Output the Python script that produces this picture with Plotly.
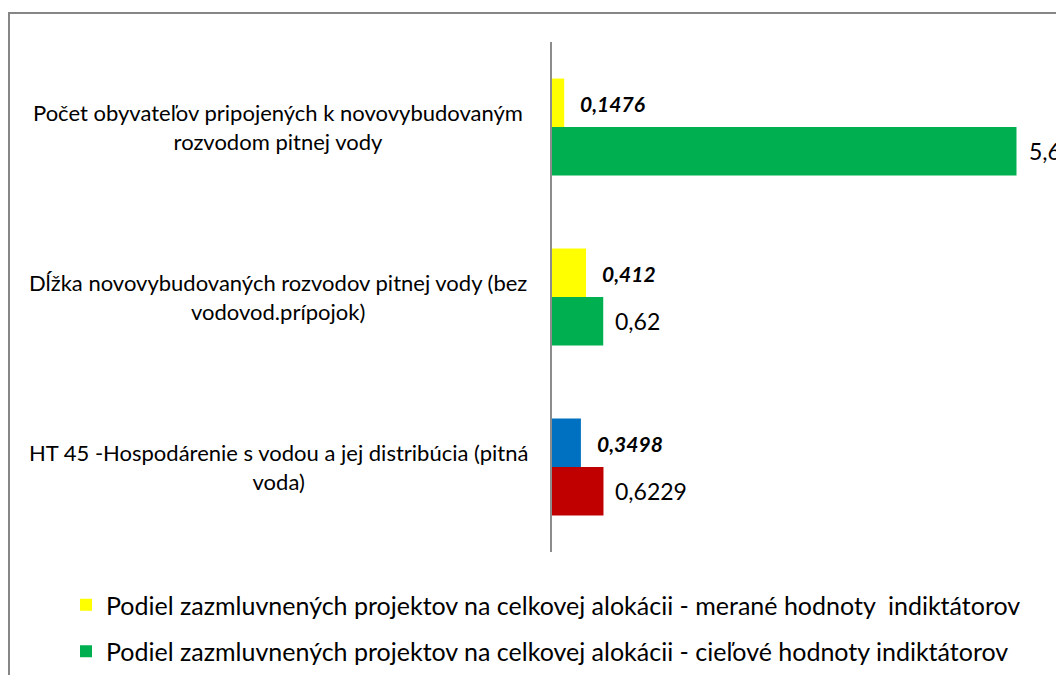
import plotly.graph_objects as go

categories = [
    "Počet obyvateľov pripojených k novovybudovaným<br>rozvodom pitnej vody",
    "Dĺžka novovybudovaných rozvodov pitnej vody (bez<br>vodovod.prípojok)",
    "HT 45 -Hospodárenie s vodou a jej distribúcia (pitná<br>voda)",
]
measured = [0.1476, 0.412, 0.3498]
target = [5.62, 0.62, 0.6229]
measured_colors = ["#FFFF00", "#FFFF00", "#0070C0"]
target_colors = ["#00B050", "#00B050", "#C00000"]
series_names = [
    "Podiel zazmluvnených projektov na celkovej alokácii - merané hodnoty  indiktátorov",
    "Podiel zazmluvnených projektov na celkovej alokácii - cieľové hodnoty indiktátorov",
]

FONT = "Lato, 'Open Sans', sans-serif"
OFF = 8  # page body margin
W, H = 1064 - 2 * OFF, 683 - 2 * OFF
ML, MR, MT = 552 - OFF, 0, 42 - OFF
MB = H - (552 - OFF)
PW = W - ML - MR
PH = H - MT - MB
px_per_unit = (1016.5 - 552) / 5.62


def fmt(v):
    return str(v).replace(".", ",")


fig = go.Figure()
fig.add_trace(go.Bar(
    y=categories, x=measured, orientation="h", name=series_names[0],
    marker=dict(color=measured_colors, line=dict(width=0)),
    legendgroup="a", hoverinfo="skip",
))
fig.add_trace(go.Bar(
    y=categories, x=target, orientation="h", name=series_names[1],
    marker=dict(color=target_colors, line=dict(width=0)),
    legendgroup="b", hoverinfo="skip",
))

annotations = []
for i, c in enumerate(categories):
    annotations.append(dict(
        x=measured[i], y=c, xref="x", yref="y", text=f"<b><i>{fmt(measured[i])}</i></b>",
        showarrow=False, xanchor="left", yanchor="middle", xshift=14, yshift=24,
        font=dict(family=FONT, size=21, color="black"),
    ))
    annotations.append(dict(
        x=target[i], y=c, xref="x", yref="y", text=fmt(target[i]),
        showarrow=False, xanchor="left", yanchor="middle", xshift=10, yshift=-24,
        font=dict(family=FONT, size=23, color="black"),
    ))
for c in categories:
    annotations.append(dict(
        x=(278 - OFF - ML) / PW, y=c, xref="paper", yref="y", text=c,
        showarrow=False, xanchor="center", yanchor="middle", align="center",
        font=dict(family=FONT, size=22, color="black"),
    ))

fig.update_layout(
    width=W, height=H,
    margin=dict(l=ML, r=MR, t=MT, b=MB, pad=0),
    paper_bgcolor="white", plot_bgcolor="white",
    barmode="group", bargap=0.43, bargroupgap=0,
    font=dict(family=FONT, size=20, color="black"),
    xaxis=dict(range=[0, PW / px_per_unit], visible=False, fixedrange=True),
    yaxis=dict(
        autorange="reversed", showticklabels=False, ticks="",
        showgrid=False, zeroline=False, showline=True,
        linecolor="#8C8C8C", linewidth=2, fixedrange=True,
    ),
    legend=dict(
        x=(66 - OFF - ML) / PW, y=-(585 - 552 - 3) / PH, xanchor="left", yanchor="top",
        orientation="v", traceorder="grouped", tracegroupgap=11,
        font=dict(family=FONT, size=25, color="black"),
        bgcolor="rgba(0,0,0,0)", itemclick=False, itemdoubleclick=False,
    ),
    annotations=annotations,
    shapes=[dict(
        type="rect", xref="paper", yref="paper",
        x0=(1 - ML) / PW, x1=1.2, y0=-0.5, y1=(MT + PH - 5) / PH,
        line=dict(color="#868686", width=2), fillcolor="rgba(0,0,0,0)", layer="below",
    )],
    showlegend=True,
)

fig.write_html("out.html", config={"displayModeBar": False})
